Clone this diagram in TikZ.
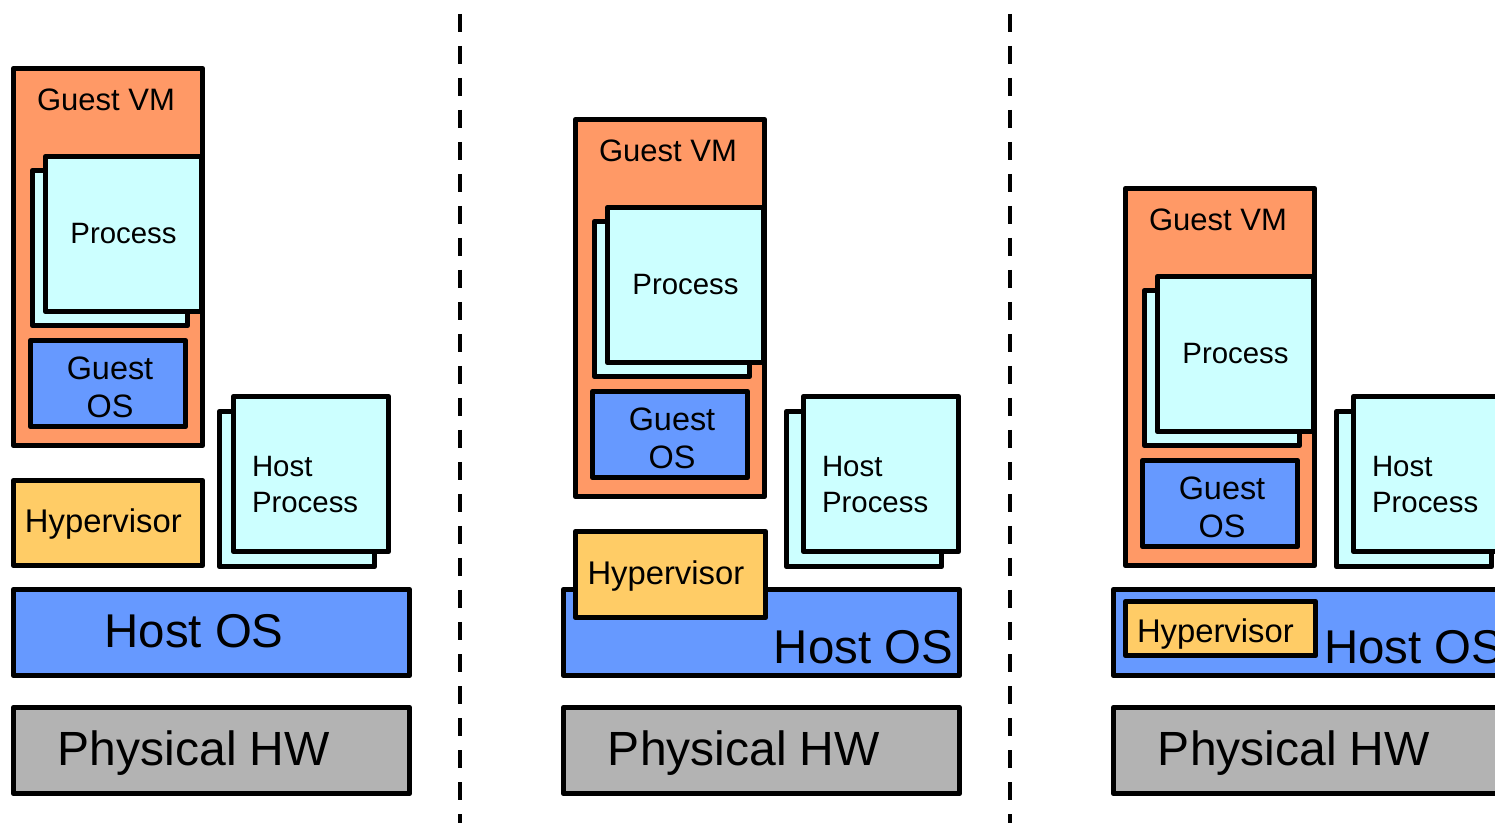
\documentclass[tikz,border=0pt]{standalone}
\usepackage{fontspec}
\setmainfont{Liberation Sans}
\usetikzlibrary{fit}

\definecolor{vmorange}{HTML}{FF9966}
\definecolor{proccyan}{HTML}{CCFFFF}
\definecolor{osblue}{HTML}{6699FF}
\definecolor{hypyellow}{HTML}{FFCC66}
\definecolor{hwgray}{HTML}{B3B3B3}

\tikzset{
  box/.style={draw=black, line width=2.7pt, line join=round, inner sep=0pt, outer sep=0pt},
  vmbox/.style={box, fill=vmorange},
  procbox/.style={box, fill=proccyan},
  osbox/.style={box, fill=osblue},
  hypbox/.style={box, fill=hypyellow},
  hwbox/.style={box, fill=hwgray},
  lbl/.style={inner sep=0pt, outer sep=0pt, anchor=base, align=center},
  fvm/.style={font=\fontsize{15.5}{18}\selectfont},
  fproc/.style={font=\fontsize{14.7}{18}\selectfont},
  fgos/.style={font=\fontsize{16.2}{19}\selectfont},
  fhyp/.style={font=\fontsize{16.4}{19}\selectfont},
  fhproc/.style={font=\fontsize{14.7}{18}\selectfont, align=left},
  fbig/.style={font=\fontsize{23.7}{28}\selectfont},
  fhw/.style={font=\fontsize{24}{28}\selectfont},
  divider/.style={draw=black, line width=2pt, dash pattern=on 9pt off 7pt}
}

\begin{document}
\begin{tikzpicture}[x=0.5pt, y=-0.5pt]
\useasboundingbox (0,0) rectangle (1495,823);
\clip (0,0) rectangle (1495,823);

% Two-line labels are anchored at the baseline of their last line.

% ---------- left stack: hypervisor beside the host processes ----------
\node[vmbox,   fit={(13.5,68.5) (202.5,445.5)}]  (vmA) {};
\node[procbox, fit={(32.5,170.5) (187.5,325.5)}] (pbA) {};
\node[procbox, fit={(45.5,156.5) (201.5,311.5)}] (pfA) {};
\node[osbox,   fit={(30.5,340.5) (185.5,426.5)}] (gosA) {};
\node[hypbox,  fit={(13.5,480.5) (202.5,565.5)}] (hypA) {};
\node[procbox, fit={(219.5,411.5) (374.5,566.5)}] (hpbA) {};
\node[procbox, fit={(233.5,396.5) (388.5,551.5)}] (hpfA) {};
\node[osbox,   fit={(13.5,589.5) (409.5,675.5)}] (hostA) {};
\node[hwbox,   fit={(13.5,707.5) (409.5,793.5)}] (hwA) {};

\node[lbl, fvm]  (vmAt)   at (106,111)   {Guest VM};
\node[lbl, fproc] (pfAt)  at (123.5,244) {Process};
\node[lbl, fgos] (gosAt)  at (110,418)   {Guest\\OS};
\node[lbl, fhyp, anchor=base west] (hypAt) at (25,533) {Hypervisor};
\node[lbl, fhproc, anchor=base west] (hpfAt) at (252,513) {Host\\Process};
\node[lbl, fbig] (hostAt) at (194,647)   {Host OS};
\node[lbl, fhw]  (hwAt)   at (194,765)   {Physical HW};

% ---------- middle stack: hypervisor on top of the host OS ----------
\node[vmbox,   fit={(575.5,119.5) (764.5,496.5)}] (vmB) {};
\node[procbox, fit={(594.5,221.5) (749.5,376.5)}] (pbB) {};
\node[procbox, fit={(607.5,207.5) (763.5,362.5)}] (pfB) {};
\node[osbox,   fit={(592.5,391.5) (747.5,477.5)}] (gosB) {};
\node[procbox, fit={(786.5,411.5) (941.5,566.5)}] (hpbB) {};
\node[procbox, fit={(803.5,396.5) (958.5,551.5)}] (hpfB) {};
\node[osbox,   fit={(563.5,589.5) (959.5,675.5)}] (hostB) {};
\node[hypbox,  fit={(575.5,531.5) (765.5,617.5)}] (hypB) {};
\node[hwbox,   fit={(563.5,707.5) (959.5,793.5)}] (hwB) {};

\node[lbl, fvm]  (vmBt)   at (668,162)   {Guest VM};
\node[lbl, fproc] (pfBt)  at (685.5,295) {Process};
\node[lbl, fgos] (gosBt)  at (672,469)   {Guest\\OS};
\node[lbl, fhyp, anchor=base west] (hypBt) at (587.5,585) {Hypervisor};
\node[lbl, fhproc, anchor=base west] (hpfBt) at (822,513) {Host\\Process};
\node[lbl, fbig, anchor=base east] (hostBt) at (953,663) {Host OS};
\node[lbl, fhw]  (hwBt)   at (744,765)   {Physical HW};

% ---------- right stack: hypervisor inside the host OS ----------
\node[vmbox,   fit={(1125.5,188.5) (1314.5,565.5)}] (vmC) {};
\node[procbox, fit={(1144.5,290.5) (1299.5,445.5)}] (pbC) {};
\node[procbox, fit={(1157.5,276.5) (1313.5,431.5)}] (pfC) {};
\node[osbox,   fit={(1142.5,460.5) (1297.5,546.5)}] (gosC) {};
\node[procbox, fit={(1336.5,411.5) (1491.5,566.5)}] (hpbC) {};
\node[procbox, fit={(1353.5,396.5) (1508.5,551.5)}] (hpfC) {};
\node[osbox,   fit={(1113.5,589.5) (1509.5,675.5)}] (hostC) {};
\node[hypbox,  fit={(1125.5,601.5) (1315.5,655.5)}] (hypC) {};
\node[hwbox,   fit={(1113.5,707.5) (1509.5,793.5)}] (hwC) {};

\node[lbl, fvm]  (vmCt)   at (1218,231)   {Guest VM};
\node[lbl, fproc] (pfCt)  at (1235.5,364) {Process};
\node[lbl, fgos] (gosCt)  at (1222,538)   {Guest\\OS};
\node[lbl, fhyp, anchor=base west] (hypCt) at (1137,642) {Hypervisor};
\node[lbl, fhproc, anchor=base west] (hpfCt) at (1372,513) {Host\\Process};
\node[lbl, fbig, anchor=base west] (hostCt) at (1324,663) {Host OS};
\node[lbl, fhw]  (hwCt)   at (1294,765)   {Physical HW};

% ---------- dashed separators ----------
\coordinate (sepAtop) at (460,14);
\coordinate (sepAbot) at (460,823);
\coordinate (sepBtop) at (1010,14);
\coordinate (sepBbot) at (1010,823);
\draw[divider] (sepAtop) -- (sepAbot);
\draw[divider] (sepBtop) -- (sepBbot);
\end{tikzpicture}
\end{document}
